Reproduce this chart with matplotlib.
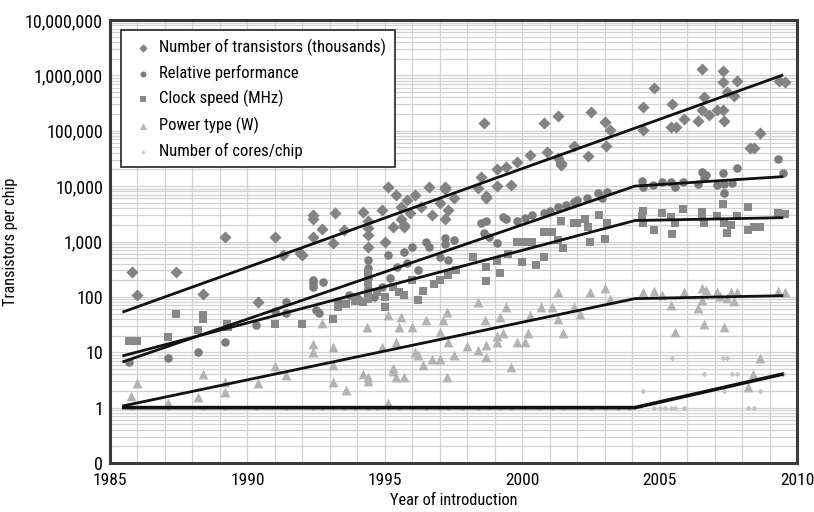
import matplotlib
matplotlib.use("Agg")
import matplotlib.pyplot as plt
from matplotlib import font_manager as fm
from matplotlib.ticker import FixedLocator, NullFormatter, LogLocator
import numpy as np

# pick a condensed sans font if one is installed
def pick_font():
    prefs = ['Liberation Sans Narrow', 'Roboto Condensed', 'Open Sans Condensed', 'Noto Sans Condensed']
    for p in prefs:
        for f in fm.fontManager.ttflist:
            if f.name == p and f.style == 'normal' and f.weight in (400, 'normal', 'regular'):
                return fm.FontProperties(fname=f.fname)
    for f in fm.fontManager.ttflist:
        if ('Condensed' in f.fname or 'Narrow' in f.fname) and 'Bold' not in f.fname \
                and 'Oblique' not in f.fname and 'Italic' not in f.fname and 'Mono' not in f.fname \
                and 'Serif' not in f.fname and 'Light' not in f.fname and 'Medium' not in f.fname \
                and 'Semi' not in f.fname and 'Black' not in f.fname and 'Thin' not in f.fname:
            return fm.FontProperties(fname=f.fname)
    return fm.FontProperties(family='DejaVu Sans')

FP = pick_font()

def fp(size):
    p = FP.copy()
    p.set_size(size)
    return p

# ---------------- data ----------------
trans_year = [1985.8, 1986.0, 1987.4, 1988.4, 1989.2, 1990.4, 1991.0, 1991.3, 1991.9, 1992.0,
              1992.4, 1992.4, 1992.7, 1992.4, 1993.2, 1993.1, 1993.5, 1994.2, 1994.4, 1994.4,
              1994.4, 1994.4, 1994.9, 1995.0, 1995.1, 1995.4, 1995.6, 1995.8, 1995.9, 1995.7,
              1995.6, 1995.7, 1995.3, 1996.3, 1996.1, 1996.6, 1996.7, 1997.0, 1997.2, 1997.2,
              1997.3, 1997.2, 1997.5, 1998.4, 1998.5, 1998.7, 1998.7, 1999.1, 1999.1, 1999.4,
              1999.6, 1999.8, 1998.6, 2000.3, 2000.8, 2000.9, 2001.3, 2001.4, 2001.3, 2001.4,
              2001.9, 2002.4, 2002.5, 2003.0, 2003.2, 2003.05, 2004.4, 2004.8, 2004.4, 2005.45,
              2005.4, 2005.6, 2005.9, 2006.4, 2006.55, 2006.6, 2006.55, 2006.8, 2007.1, 2007.3,
              2007.35, 2007.3, 2007.3, 2007.8, 2007.45, 2007.7, 2008.3, 2008.45, 2008.65, 2009.35,
              2009.55]
trans_val = [280, 110, 280, 115, 1200, 80, 1200, 580, 630, 580,
             3000, 2500, 1700, 1200, 3300, 950, 1600, 3400, 2300, 1780,
             1320, 800, 3700, 1000, 9800, 7000, 2500, 5700, 3300, 1800,
             4200, 2000, 1850, 4200, 7000, 9800, 3000, 5000, 9800, 9000,
             3700, 2500, 6200, 9400, 14800, 6700, 6000, 20500, 10000, 22000,
             10600, 27500, 140000, 37000, 140000, 42000, 185000, 26000, 32000, 24500,
             54000, 35000, 220000, 146000, 105000, 54000, 270000, 600000, 105000, 310000,
             115000, 115000, 165000, 150000, 1320000, 400000, 240000, 190000, 240000, 240000,
             150000, 1200000, 760000, 780000, 500000, 430000, 48000, 48000, 92000, 780000,
             750000]

perf_year = [1985.7, 1987.1, 1988.2, 1989.2, 1990.3, 1991.0, 1991.4, 1991.4, 1992.4, 1992.4,
             1992.4, 1992.5, 1992.6, 1992.75, 1993.3, 1993.7, 1994.0, 1994.4, 1994.4, 1994.4,
             1994.4, 1994.6, 1994.9, 1995.1, 1995.2, 1995.45, 1995.7, 1995.8, 1996.0, 1996.2,
             1996.5, 1996.6, 1997.0, 1997.2, 1997.2, 1997.5, 1997.3, 1998.5, 1998.7, 1998.6,
             1998.8, 1999.1, 1999.3, 1999.4, 1999.8, 2000.1, 2000.35, 2000.8, 2001.0, 2001.3,
             2001.6, 2001.9, 2002.0, 2002.35, 2002.75, 2003.1, 2002.9, 2004.35, 2004.4, 2004.75,
             2005.1, 2005.4, 2005.55, 2005.85, 2006.4, 2006.55, 2006.7, 2006.6, 2007.1, 2007.3,
             2007.35, 2007.65, 2007.8, 2007.35, 2009.3, 2009.5]
perf_val = [6.8, 8, 10, 15, 31, 55, 82, 52, 205, 150,
            180, 59, 52, 185, 80, 110, 95, 140, 220, 330,
            470, 100, 150, 580, 220, 340, 650, 415, 780, 300,
            1000, 800, 530, 1170, 900, 1070, 470, 2200, 2300, 1450,
            1200, 950, 2800, 2600, 2300, 2700, 3000, 3300, 3500, 4200,
            4600, 5200, 5600, 6200, 7600, 7900, 6000, 12500, 9600, 10300,
            12000, 12000, 9800, 12000, 11000, 18000, 16000, 14000, 10500, 17500,
            7600, 11500, 21500, 11000, 31000, 17500]

clock_year = [1985.7, 1986.0, 1987.1, 1987.4, 1988.2, 1988.4, 1988.4, 1989.25, 1989.3, 1991.0,
              1992.0, 1993.1, 1993.3, 1993.6, 1993.9, 1994.2, 1994.4, 1994.4, 1994.4, 1994.4,
              1994.7, 1995.0, 1995.0, 1995.3, 1995.5, 1995.7, 1996.2, 1996.0, 1996.4, 1996.8,
              1997.0, 1997.3, 1997.6, 1998.2, 1998.7, 1998.7, 1999.2, 1999.1, 1999.5, 1999.8,
              2000.0, 2000.5, 2000.8, 2000.1, 2000.35, 2000.8, 2001.1, 2001.3, 2001.5, 2001.4,
              2002.0, 2001.9, 2002.3, 2002.4, 2002.45, 2002.8, 2003.0, 2003.1, 2004.4, 2004.4,
              2004.35, 2004.8, 2005.1, 2005.4, 2005.55, 2005.45, 2005.85, 2006.55, 2006.55, 2006.6,
              2007.1, 2007.3, 2007.35, 2007.45, 2007.6, 2007.8, 2008.2, 2008.2, 2008.45, 2008.65,
              2009.3, 2009.55]
clock_val = [16, 16, 19, 50, 25, 40, 47, 33, 28, 33,
             33, 40, 66, 75, 85, 80, 90, 110, 180, 270,
             120, 66, 100, 150, 120, 110, 88, 200, 130, 170,
             200, 250, 300, 530, 350, 190, 275, 450, 600, 1000,
             430, 380, 530, 1000, 1000, 1500, 1500, 1070, 770, 2300,
             2200, 2200, 2600, 1800, 1000, 3000, 1100, 2200, 3600, 2200,
             2900, 1580, 3300, 2800, 2200, 1380, 3900, 3400, 2800, 2200,
             2900, 4800, 2200, 1450, 2000, 2900, 4200, 1580, 1850, 1850,
             3300, 3200]

power_year = [1985.75, 1986.0, 1987.1, 1988.2, 1988.4, 1989.2, 1989.2, 1990.4, 1991.0, 1991.4,
              1992.4, 1992.4, 1992.7, 1993.1, 1993.1, 1993.1, 1993.6, 1994.2, 1994.4, 1994.35,
              1994.4, 1994.9, 1995.1, 1995.1, 1995.3, 1995.4, 1995.5, 1995.6, 1995.4, 1995.3,
              1995.7, 1996.0, 1996.1, 1996.2, 1996.5, 1996.4, 1996.7, 1997.0, 1997.0, 1997.1,
              1997.25, 1997.3, 1997.5, 1997.25, 1998.0, 1998.4, 1998.4, 1998.65, 1998.7, 1998.7,
              1999.1, 1999.2, 1999.4, 1999.1, 1999.3, 1999.6, 1999.8, 2000.1, 2000.2, 2000.3,
              2000.7, 2001.1, 2001.3, 2001.3, 2001.5, 2001.9, 2002.1, 2002.45, 2003.0, 2003.2,
              2004.4, 2004.8, 2005.1, 2005.4, 2005.55, 2005.9, 2006.4, 2006.55, 2006.7, 2006.55,
              2006.6, 2007.1, 2007.2, 2007.35, 2007.45, 2007.6, 2007.7, 2007.8, 2008.2, 2008.4,
              2008.65, 2009.3, 2009.55]
power_val = [1.65, 2.8, 1.2, 1.58, 4, 1.95, 2.9, 2.8, 5.7, 3.9,
             14, 10, 34, 12.6, 2.9, 6, 2.1, 4, 3.6, 28,
             3.0, 12.6, 48, 1.2, 5.3, 15.5, 29, 44, 3.5, 4.5,
             3.5, 29, 10, 9, 39, 6, 7.4, 7.4, 23.5, 39,
             54, 15, 9, 3.5, 13, 11, 82, 39, 8.3, 13.5,
             15, 44, 66, 20, 22, 5.5, 15.5, 15.5, 22, 48,
             66, 66, 124, 40, 22, 66, 50, 124, 147, 90,
             120, 130, 110, 72, 23.5, 120, 64, 147, 135, 88,
             33, 125, 105, 29, 95, 125, 85, 125, 2.4, 4,
             8, 130, 120]

cores_year = [1985.8, 1987.1, 1988.4, 1989.2, 1990.3, 1991.4, 1992.4, 1992.7, 1993.1, 1993.5,
              1993.9, 1994.4, 1994.7, 1995.1, 1995.5, 1996.0, 1996.5, 1997.0, 1997.3, 1997.8,
              1998.4, 1998.8, 1999.2, 1999.6, 2000.1, 2000.6, 2001.1, 2001.5, 2002.0, 2002.5,
              2003.0, 2003.5, 2003.9, 2004.8, 2005.0, 2005.2, 2005.4, 2005.55, 2005.9, 2008.2,
              2008.45, 2004.4, 2005.45, 2006.6, 2007.3, 2007.45, 2007.65, 2007.8, 2007.35, 2008.65,
              2009.5]
cores_val = [1, 1, 1, 1, 1, 1, 1, 1, 1, 1,
             1, 1, 1, 1, 1, 1, 1, 1, 1, 1,
             1, 1, 1, 1, 1, 1, 1, 1, 1, 1,
             1, 1, 1, 1, 1, 1, 1, 1, 1, 1,
             1, 2, 8, 4, 8, 8, 4, 4, 2, 2,
             4]

# trend lines (start, 2004 knee, end)
trend_trans_year = [1985.5, 2009.45]
trend_trans_val = [54, 1000000]
trend_knee_year = [1985.5, 2004.1, 2009.45]
trend_perf_val = [6.8, 10000, 14800]
trend_clock_val = [8.7, 2390, 2690]
trend_power_val = [1.08, 93, 105]
trend_cores_val = [1.0, 1.0, 4.0]

legend_labels = ["Number of transistors (thousands)", "Relative performance",
                 "Clock speed (MHz)", "Power type (W)", "Number of cores/chip"]
ytick_vals = [0.1, 1, 10, 100, 1000, 10000, 100000, 1000000, 10000000]
ytick_labels = ["0", "1", "10", "100", "1,000", "10,000", "100,000", "1,000,000", "10,000,000"]
xtick_vals = [1985, 1990, 1995, 2000, 2005, 2010]
xtick_labels = ["1985", "1990", "1995", "2000", "2005", "2010"]

# ---------------- figure ----------------
fig = plt.figure(figsize=(8.14, 5.12), dpi=100)
ax = fig.add_axes([110/814, 1 - 463/512, 687/814, 443/512])
ax.set_yscale('log')
ax.set_xlim(1985, 2010)
ax.set_ylim(0.1, 1e7)

ax.set_xticks(xtick_vals)
ax.set_xticklabels(xtick_labels, fontproperties=fp(12.6))
ax.xaxis.set_minor_locator(FixedLocator(np.arange(1985, 2011, 1)))
ax.set_yticks(ytick_vals)
ax.set_yticklabels(ytick_labels, fontproperties=fp(13))
ax.yaxis.set_minor_locator(LogLocator(base=10, subs=np.arange(2, 10), numticks=100))
ax.yaxis.set_minor_formatter(NullFormatter())
ax.grid(which='both', axis='both', color='#d2d2d2', linewidth=0.9, zorder=0)
ax.set_axisbelow(True)
ax.tick_params(axis='x', which='both', length=0, pad=7)
ax.tick_params(axis='y', which='both', length=0, pad=5)

for sp in ax.spines.values():
    sp.set_linewidth(2.2)
    sp.set_color('#3a3a3a')

ax.scatter(trans_year, trans_val, marker='D', s=38, color='#838383', linewidths=0, zorder=3,
           label=legend_labels[0])
ax.scatter(perf_year, perf_val, marker='o', s=38, color='#7c7c7c', linewidths=0, zorder=3,
           label=legend_labels[1])
ax.scatter(clock_year, clock_val, marker='s', s=30, color='#888888', linewidths=0, zorder=3,
           label=legend_labels[2])
ax.scatter(power_year, power_val, marker='^', s=50, color='#b3b3b3', linewidths=0, zorder=3,
           label=legend_labels[3])
ax.scatter(cores_year, cores_val, marker='D', s=9, color='#c4c4c4', linewidths=0, zorder=3,
           label=legend_labels[4])

lw = 2.0
ax.plot(trend_trans_year, trend_trans_val, color='#111111', lw=lw, zorder=4)
ax.plot(trend_knee_year, trend_perf_val, color='#111111', lw=lw, zorder=4)
ax.plot(trend_knee_year, trend_clock_val, color='#111111', lw=lw, zorder=4)
ax.plot(trend_knee_year, trend_power_val, color='#111111', lw=lw, zorder=4)
ax.plot(trend_knee_year, trend_cores_val, color='#111111', lw=lw + 0.6, zorder=4)

ax.set_xlabel("Year of introduction", fontproperties=fp(11.8), labelpad=4)
ax.set_ylabel("Transistors per chip", fontproperties=fp(11.8), labelpad=5)

leg = ax.legend(loc='upper left', bbox_to_anchor=(0.016, 0.977), borderaxespad=0,
                prop=fp(12), frameon=True, fancybox=False, handlelength=1.6,
                handletextpad=0.2, labelspacing=0.55, borderpad=0.5, markerscale=0.7)
leg.get_frame().set_edgecolor('#222222')
leg.get_frame().set_linewidth(1.2)
leg.get_frame().set_alpha(1)
leg.set_zorder(10)

fig.savefig("out.png", dpi=100)
